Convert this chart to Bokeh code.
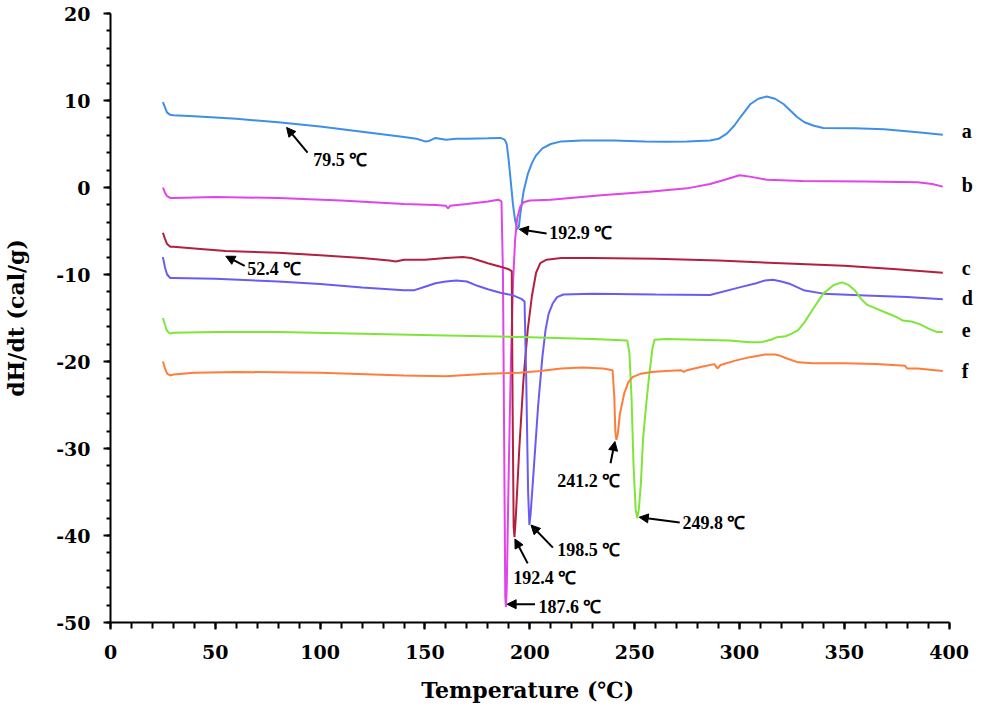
from bokeh.plotting import figure
from bokeh.models import ColumnDataSource, LabelSet, Arrow, NormalHead, SingleIntervalTicker, PrintfTickFormatter
from bokeh.embed import file_html
from bokeh.resources import INLINE

# ---------------- data ----------------
series_names = ["a", "b", "c", "d", "e", "f"]
series_colors = ["#3f8fe8", "#e044ea", "#b3203e", "#6a5cf2", "#7ee63a", "#ff7d3c"]

temp_a = [25, 26, 27, 28.5, 30, 40, 60, 80, 100, 120, 140, 146, 150, 152, 155, 160, 165, 170, 180, 186,
          188, 189, 190, 191, 192, 193, 194, 194.8, 195.5, 197, 199, 201, 203, 206, 210, 215, 225, 240,
          255, 265, 275, 286, 290, 294, 297.5, 300.5, 305.3, 309, 313, 317, 321, 324.5, 327.5, 331, 335.5,
          340, 355, 369, 385, 397]
dhdt_a = [9.8, 9.2, 8.6, 8.35, 8.3, 8.2, 7.9, 7.5, 7.0, 6.4, 5.8, 5.6, 5.3, 5.35, 5.7, 5.5, 5.6, 5.6, 5.65, 5.7,
          5.5, 5.0, 3.0, 0.5, -2.0, -3.8, -4.8, -4.5, -3.0, -0.5, 1.5, 2.8, 3.7, 4.5, 5.0, 5.3, 5.4, 5.4,
          5.3, 5.25, 5.3, 5.4, 5.6, 6.2, 7.1, 8.1, 9.6, 10.2, 10.45, 10.2, 9.6, 8.8, 8.1, 7.5, 7.1,
          6.85, 6.8, 6.7, 6.35, 6.05]

temp_b = [25, 26, 27, 28.5, 30, 50, 80, 110, 140, 155, 160, 161, 162, 170, 180, 185, 186.5, 187.2, 187.8,
          188.3, 188.6, 189, 190, 191, 192, 193, 194, 195.5, 197, 200, 210, 234, 257, 275, 286, 293, 300,
          305, 313, 330, 360, 385, 392, 397]
dhdt_b = [0.0, -0.6, -1.0, -1.2, -1.2, -1.1, -1.2, -1.5, -1.9, -2.0, -2.1, -2.4, -2.1, -1.9, -1.6, -1.4, -1.6,
          -10, -30, -47, -48.2, -46, -32, -20, -11, -6, -3.5, -2.2, -1.7, -1.5, -1.4, -0.9, -0.5, -0.1, 0.4,
          0.9, 1.4, 1.25, 0.9, 0.75, 0.7, 0.6, 0.4, 0.1]

temp_c = [25, 26, 27, 28.5, 30, 40, 55, 80, 100, 120, 133, 136, 140, 150, 160, 168, 172, 180, 186, 190,
          191.4, 191.8, 192.3, 192.7, 193.3, 195, 197, 199, 201, 203, 205, 208, 215, 230, 260, 290, 320,
          350, 375, 397]
dhdt_c = [-5.2, -5.9, -6.5, -6.8, -6.8, -7.0, -7.3, -7.5, -7.8, -8.1, -8.4, -8.5, -8.3, -8.3, -8.1, -8.0,
          -8.1, -8.7, -9.1, -9.4, -9.6, -25, -39, -40.2, -38, -30, -22, -16.4, -12.5, -9.8, -8.7, -8.3,
          -8.1, -8.1, -8.2, -8.4, -8.7, -9.0, -9.4, -9.8]

temp_d = [25, 26, 27, 28.5, 30, 50, 80, 100, 120, 140, 145, 150, 155, 160, 165, 170, 175, 180, 186, 192,
          196, 197.5, 198.3, 199.2, 199.8, 200.4, 202, 204, 206, 207.5, 209, 211, 213, 216, 230, 260, 286,
          300.5, 308, 312, 316, 320, 324.3, 330.6, 340, 360, 380, 397]
dhdt_d = [-8.0, -9.2, -10.0, -10.4, -10.4, -10.5, -10.8, -11.1, -11.5, -11.8, -11.8, -11.4, -11.0, -10.8,
          -10.7, -10.8, -11.3, -11.7, -12.1, -12.4, -12.8, -13.1, -22, -35, -38.8, -37.5, -32, -25, -19.5,
          -16.4, -14.5, -13.3, -12.6, -12.3, -12.2, -12.3, -12.35, -11.45, -11.0, -10.7, -10.6, -10.8,
          -11.1, -11.8, -12.2, -12.4, -12.6, -12.85]

temp_e = [25, 26, 27, 28.5, 30, 50, 80, 120, 160, 200, 230, 246.5, 247.5, 248.5, 249.5, 250.5, 251.3, 252,
          253, 254, 255.5, 257, 258.5, 259.5, 265, 280, 295, 305, 310, 315, 318, 322, 325, 328, 331, 335,
          340, 345, 349, 352, 355, 358, 361, 365, 370, 375, 378, 382, 386, 390, 394, 397]
dhdt_e = [-15.0, -15.8, -16.5, -16.8, -16.7, -16.6, -16.6, -16.8, -17.0, -17.2, -17.4, -17.6, -19, -24,
          -32, -37, -38.0, -37, -34, -29, -25, -21.5, -18.5, -17.5, -17.4, -17.5, -17.6, -17.8, -17.8,
          -17.5, -17.2, -17.1, -16.8, -16.4, -15.5, -14.0, -12.2, -11.2, -10.9, -11.2, -11.8, -12.8,
          -13.5, -13.9, -14.4, -14.9, -15.3, -15.4, -15.7, -16.2, -16.6, -16.6]

temp_f = [25, 26, 27, 28.5, 30, 40, 60, 100, 140, 160, 180, 195, 205, 215, 225, 235, 239.5, 240.3, 240.8,
          241.3, 242, 243, 245, 247, 249, 253, 258, 265, 272, 273.5, 275, 282, 288, 289.5, 291, 298, 305,
          312, 317, 319, 322, 328, 335, 350, 365, 379, 380, 385, 397]
dhdt_f = [-20.0, -20.8, -21.4, -21.6, -21.5, -21.3, -21.2, -21.3, -21.6, -21.7, -21.4, -21.3, -21.1, -20.8,
          -20.7, -20.8, -21.0, -24, -28, -29.0, -28.3, -26, -23.7, -22.4, -21.8, -21.4, -21.2, -21.1,
          -21.0, -21.2, -21.0, -20.6, -20.3, -20.8, -20.4, -19.9, -19.5, -19.2, -19.2, -19.3, -19.6,
          -20.1, -20.2, -20.2, -20.3, -20.5, -20.8, -20.8, -21.1]

series_temp = [temp_a, temp_b, temp_c, temp_d, temp_e, temp_f]
series_dhdt = [dhdt_a, dhdt_b, dhdt_c, dhdt_d, dhdt_e, dhdt_f]

# series letters at the right end (beyond the 400 end of the axis)
series_label_x = [406, 406, 406, 406, 406, 406]
series_label_y = [5.7, -0.5, -10.1, -13.5, -17.2, -21.9]

# peak annotations
peak_labels = ["79.5 ℃", "192.9 ℃", "52.4 ℃", "241.2 ℃", "249.8 ℃", "198.5 ℃", "192.4 ℃", "187.6 ℃"]
peak_text_x = [96.7, 209.3, 65.2, 213.1, 272.8, 213.1, 192.1, 204.1]
peak_text_y = [2.5, -5.9, -10.0, -34.4, -39.3, -42.4, -45.6, -48.9]
arrow_x_start = [94.0, 208.0, 64.0, 238.5, 271.5, 211.0, 199.0, 202.5]
arrow_y_start = [4.0, -5.3, -9.0, -31.7, -38.5, -41.4, -43.2, -47.9]
arrow_x_end = [84.0, 195.0, 55.0, 240.6, 252.2, 200.6, 192.9, 189.2]
arrow_y_end = [6.9, -4.8, -7.9, -29.2, -37.9, -38.8, -40.4, -47.9]

x_axis_span = (0, 400)
x_view = (0, 412.6)   # room to the right of the axis end for the series letters

FONT = "DejaVu Serif"
NBSP = "\u00a0"

# ---------------- figure ----------------
p = figure(width=975, height=705, x_range=x_view, y_range=(-50, 20),
           output_backend="svg", toolbar_location=None,
           min_border_left=110, min_border_right=0, min_border_top=13, min_border_bottom=82)
p.outline_line_color = None
p.grid.visible = False
p.background_fill_color = "white"
p.border_fill_color = "white"

p.xaxis.ticker = SingleIntervalTicker(interval=50, num_minor_ticks=5)
p.yaxis.ticker = SingleIntervalTicker(interval=10, num_minor_ticks=5)
p.xaxis.formatter = PrintfTickFormatter(format="%d")
p.yaxis.formatter = PrintfTickFormatter(format="%d")
p.xaxis.bounds = x_axis_span

for ax in (p.xaxis[0], p.yaxis[0]):
    ax.axis_line_width = 2
    ax.axis_line_color = "black"
    ax.major_tick_line_width = 2
    ax.minor_tick_line_width = 2
    ax.major_tick_line_color = "black"
    ax.minor_tick_line_color = "black"
    ax.major_tick_in = 0
    ax.minor_tick_in = 0
    ax.major_label_text_font = FONT
    ax.major_label_text_font_style = "bold"
    ax.major_label_text_font_size = "19px"
    ax.major_label_text_color = "black"
    ax.axis_label_text_font = FONT
    ax.axis_label_text_font_style = "bold"
    ax.axis_label_text_font_size = "22px"
    ax.axis_label_text_color = "black"

p.xaxis.major_tick_out = 7
p.xaxis.minor_tick_out = 6
p.yaxis.major_tick_out = 7
p.yaxis.minor_tick_out = 4
p.xaxis.major_label_standoff = 15
p.yaxis.major_label_standoff = 13
# trailing no-break spaces centre the title over the 0-400 axis rather than the wider frame
p.xaxis.axis_label = "Temperature (℃)" + NBSP * 4
p.yaxis.axis_label = "dH/dt (cal/g)"
p.xaxis.axis_label_standoff = 15
p.yaxis.axis_label_standoff = 24

for t, d, c in zip(series_temp, series_dhdt, series_colors):
    p.line(t, d, line_color=c, line_width=2)

arrow_src = ColumnDataSource(dict(xs=arrow_x_start, ys=arrow_y_start, xe=arrow_x_end, ye=arrow_y_end))
p.add_layout(Arrow(end=NormalHead(size=9, fill_color="black", line_color="black", line_width=1),
                   x_start="xs", y_start="ys", x_end="xe", y_end="ye",
                   source=arrow_src, line_width=2, line_color="black"))

peak_src = ColumnDataSource(dict(x=peak_text_x, y=peak_text_y, t=peak_labels))
p.add_layout(LabelSet(x="x", y="y", text="t", source=peak_src, text_font=FONT,
                      text_font_style="bold", text_font_size="18px", text_color="black",
                      text_align="left", text_baseline="alphabetic"))

name_src = ColumnDataSource(dict(x=series_label_x, y=series_label_y, t=series_names))
p.add_layout(LabelSet(x="x", y="y", text="t", source=name_src, text_font=FONT,
                      text_font_style="bold", text_font_size="20px", text_color="black",
                      text_align="left", text_baseline="alphabetic"))

open("out.html", "w").write(file_html(p, INLINE))
